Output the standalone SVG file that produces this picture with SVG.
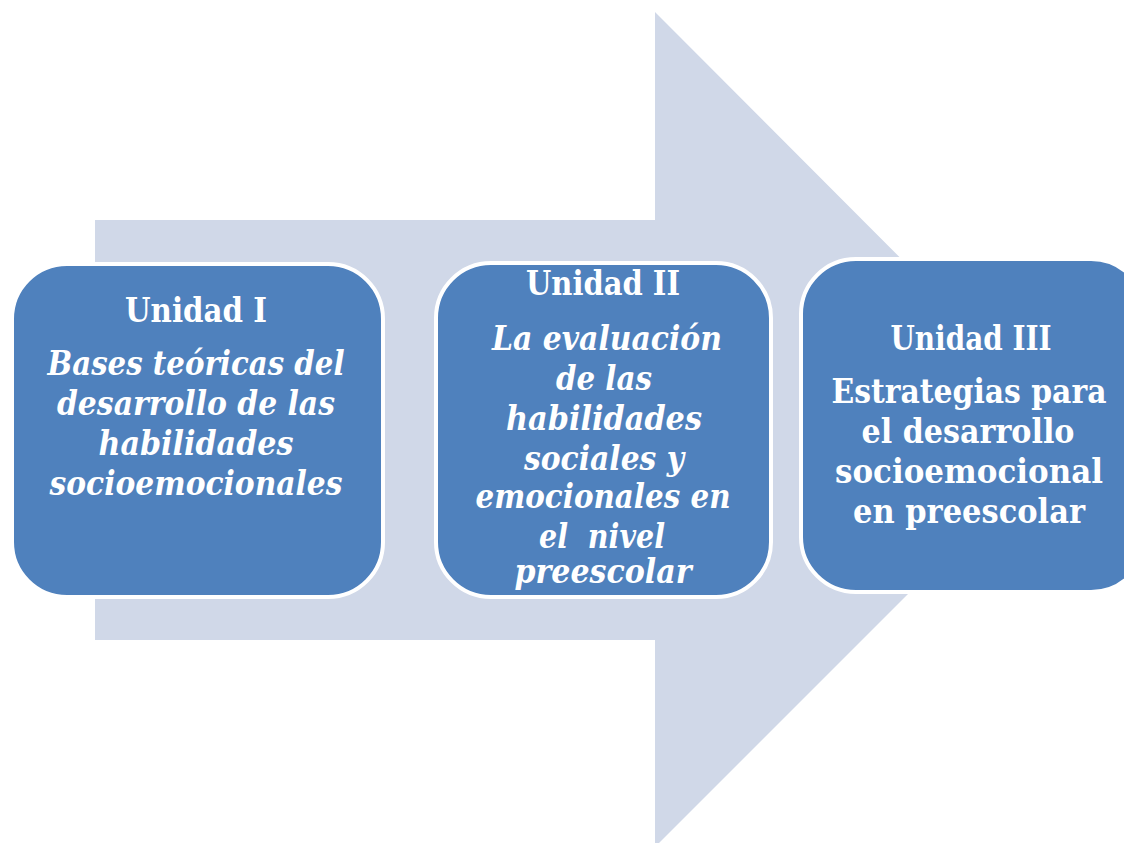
<svg xmlns="http://www.w3.org/2000/svg" width="1124" height="843" viewBox="0 0 1124 843">
<style>
.box{fill:#4f81bd;stroke:#ffffff;stroke-width:4}
.t{font-family:"DejaVu Serif","Liberation Serif",serif;font-weight:bold;font-size:33px;fill:#ffffff;text-anchor:middle;white-space:pre}
.i{font-style:italic}
</style>
<rect width="1124" height="843" fill="#ffffff"/>
<g id="connectors">
<path d="M95,220 L655,220 L655,12 L1072,430 L655,847 L655,640 L95,640 Z" fill="#d0d8e8"/>
</g>
<g id="unidad1">
<rect class="box" x="12" y="264" width="371" height="333" rx="55" ry="55"/>
<text class="t" x="196" y="322" textLength="142" lengthAdjust="spacingAndGlyphs">Unidad I</text>
<text class="t i" x="196" y="375" textLength="297" lengthAdjust="spacingAndGlyphs">Bases teóricas del</text>
<text class="t i" x="196" y="415" textLength="278" lengthAdjust="spacingAndGlyphs">desarrollo de las</text>
<text class="t i" x="196" y="455" textLength="195" lengthAdjust="spacingAndGlyphs">habilidades</text>
<text class="t i" x="196" y="495" textLength="293" lengthAdjust="spacingAndGlyphs">socioemocionales</text>
</g>
<g id="unidad2">
<rect class="box" x="436" y="263" width="335" height="334" rx="55" ry="55"/>
<text class="t" x="603" y="295" textLength="154" lengthAdjust="spacingAndGlyphs">Unidad II</text>
<text class="t i" x="607" y="350" textLength="230" lengthAdjust="spacingAndGlyphs">La evaluación</text>
<text class="t i" x="604" y="390" textLength="96" lengthAdjust="spacingAndGlyphs">de las</text>
<text class="t i" x="604" y="430" textLength="196" lengthAdjust="spacingAndGlyphs">habilidades</text>
<text class="t i" x="604" y="470" textLength="160" lengthAdjust="spacingAndGlyphs">sociales y</text>
<text class="t i" x="603" y="508" textLength="255" lengthAdjust="spacingAndGlyphs">emocionales en</text>
<text class="t i" x="602" y="548" textLength="126" lengthAdjust="spacingAndGlyphs" xml:space="preserve">el  nivel</text>
<text class="t i" x="603" y="583" textLength="177" lengthAdjust="spacingAndGlyphs">preescolar</text>
</g>
<g id="unidad3">
<rect class="box" x="801" y="259" width="345" height="333" rx="55" ry="55"/>
<text class="t" x="971" y="350" textLength="161" lengthAdjust="spacingAndGlyphs">Unidad III</text>
<text class="t" x="969" y="403" textLength="275" lengthAdjust="spacingAndGlyphs">Estrategias para</text>
<text class="t" x="968" y="443" textLength="213" lengthAdjust="spacingAndGlyphs">el desarrollo</text>
<text class="t" x="969" y="483" textLength="268" lengthAdjust="spacingAndGlyphs">socioemocional</text>
<text class="t" x="969" y="523" textLength="232" lengthAdjust="spacingAndGlyphs">en preescolar</text>
</g>
</svg>
